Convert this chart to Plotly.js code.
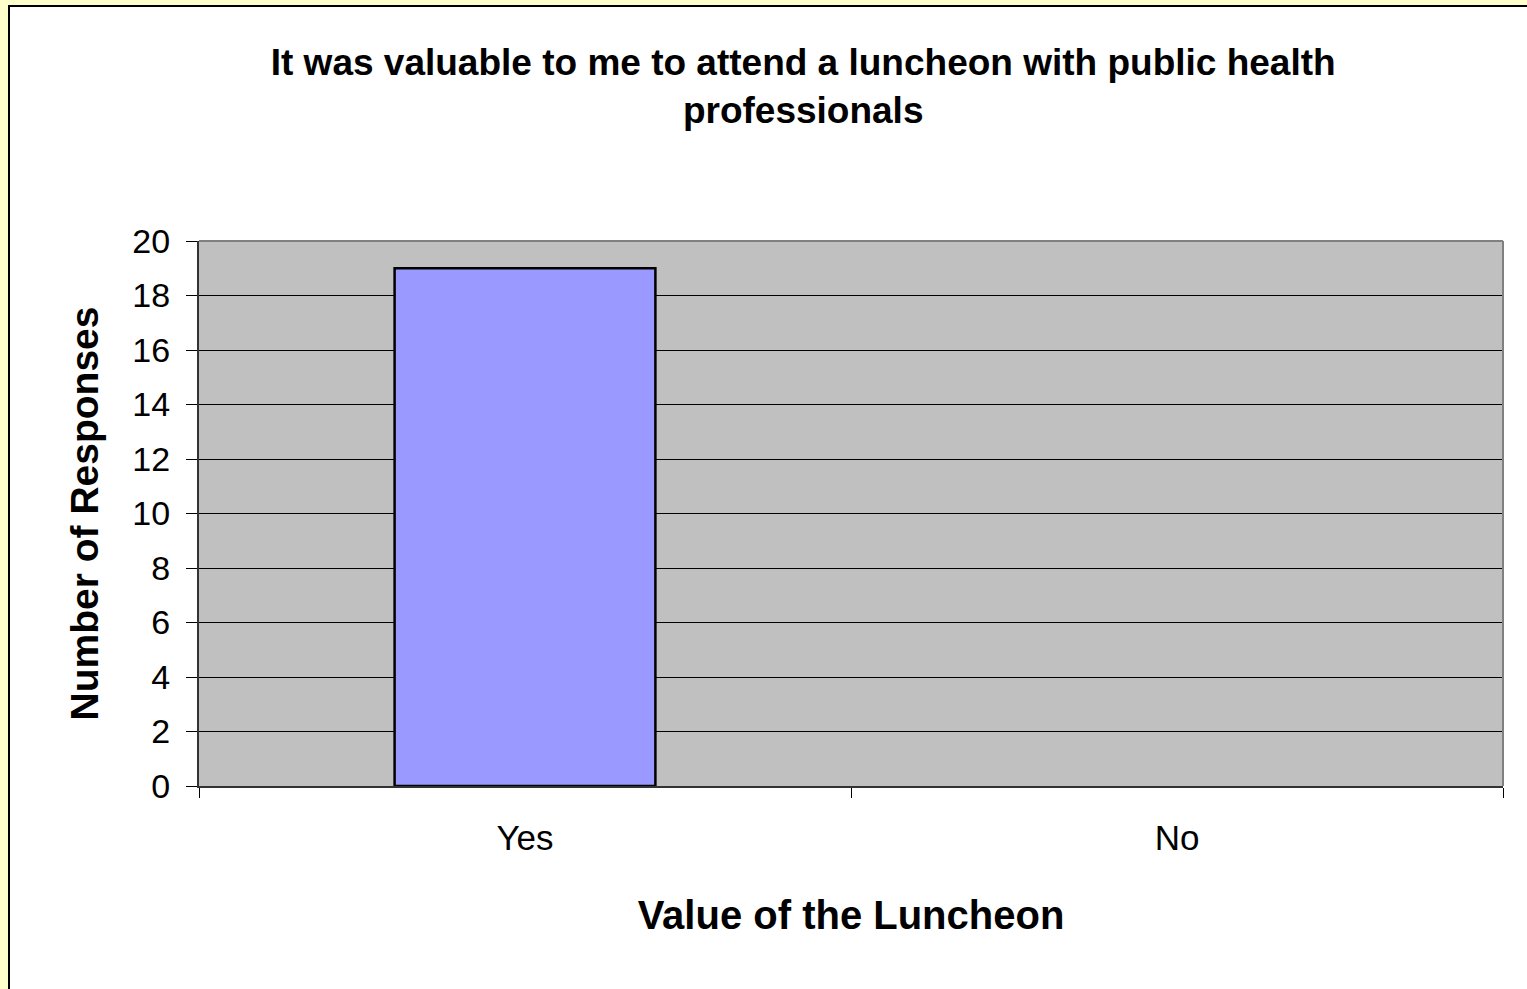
<!DOCTYPE html>
<html>
<head>
<meta charset="utf-8">
<script src="https://cdn.plot.ly/plotly-3.0.1.min.js"></script>
<style>
  html, body { margin: 0; padding: 0; background: #ffffff; }
  #chart { width: 1527px; height: 989px; }
</style>
</head>
<body>
<div id="chart"></div>
<script>
const categories = ["Yes", "No"];
const responses = [19, 0];
const yTickValues = [0, 2, 4, 6, 8, 10, 12, 14, 16, 18, 20];
const titleText = "It was valuable to me to attend a luncheon with public health<br>professionals";
const xTitle = "Value of the Luncheon";
const yTitle = "Number of Responses";

const W = 1527, H = 989;
const L = 199, R = 24, T = 241, B = 203;
const pw = W - L - R, ph = H - T - B;
const px = p => (p - L) / pw;           // pixel x -> paper x
const py = q => (H - B - q) / ph;       // pixel y -> paper y

const font = "Arial, 'Liberation Sans', sans-serif";

const trace = {
  type: "bar",
  x: categories,
  y: responses,
  width: 0.4,
  marker: {
    color: "#9999FF",
    line: { color: "#000000", width: responses.map(v => (v > 0 ? 2.5 : 0)) }
  },
  hoverinfo: "x+y"
};

const layout = {
  width: W,
  height: H,
  margin: { l: L, r: R, t: T, b: B, pad: 0 },
  paper_bgcolor: "#FFFFFF",
  plot_bgcolor: "#C0C0C0",
  showlegend: false,
  title: {
    text: titleText,
    font: { family: font, size: 37, color: "#000000", weight: "bold" },
    x: 0.526,
    xanchor: "center",
    y: 1 - 75 / H,
    yanchor: "middle",
    yref: "container"
  },
  xaxis: {
    type: "category",
    tickson: "boundaries",
    ticks: "outside",
    ticklen: 10,
    tickcolor: "#000000",
    tickwidth: 1,
    ticklabelstandoff: 20,
    showline: true,
    linecolor: "#333333",
    linewidth: 2,
    showgrid: false,
    tickfont: { family: font, size: 35, color: "#000000" },
    title: {
      text: xTitle,
      font: { family: font, size: 40, color: "#000000", weight: "bold" },
      standoff: 45
    },
    fixedrange: true
  },
  yaxis: {
    range: [0, 20],
    tickvals: yTickValues,
    ticktext: yTickValues.map(String),
    ticks: "outside",
    ticklen: 11,
    tickcolor: "#000000",
    tickwidth: 1,
    ticklabelstandoff: 9,
    showline: true,
    linecolor: "#333333",
    linewidth: 2,
    showgrid: true,
    gridcolor: "#000000",
    gridwidth: 1,
    zeroline: false,
    tickfont: { family: font, size: 34, color: "#000000" },
    title: {
      text: yTitle,
      font: { family: font, size: 39, color: "#000000", weight: "bold" },
      standoff: 22
    },
    fixedrange: true
  },
  shapes: [
    // top and right plot-area border
    { type: "line", xref: "paper", yref: "paper", x0: 0, x1: 1, y0: 1, y1: 1,
      line: { color: "#808080", width: 2 }, layer: "above" },
    { type: "line", xref: "paper", yref: "paper", x0: 1, x1: 1, y0: 0, y1: 1,
      line: { color: "#808080", width: 2 }, layer: "above" },
    // yellow outer strips
    { type: "rect", xref: "paper", yref: "paper", x0: px(0), x1: px(8), y0: py(H), y1: py(0),
      fillcolor: "#FFFFCC", line: { width: 0 }, layer: "above" },
    { type: "rect", xref: "paper", yref: "paper", x0: px(0), x1: px(W), y0: py(5), y1: py(0),
      fillcolor: "#FFFFCC", line: { width: 0 }, layer: "above" },
    // black frame lines
    { type: "line", xref: "paper", yref: "paper", x0: px(9), x1: px(9), y0: py(H), y1: py(6),
      line: { color: "#000000", width: 2 }, layer: "above" },
    { type: "line", xref: "paper", yref: "paper", x0: px(8), x1: px(W), y0: py(6), y1: py(6),
      line: { color: "#000000", width: 2 }, layer: "above" }
  ]
};

Plotly.newPlot("chart", [trace], layout, { displayModeBar: false, staticPlot: true });
</script>
</body>
</html>
